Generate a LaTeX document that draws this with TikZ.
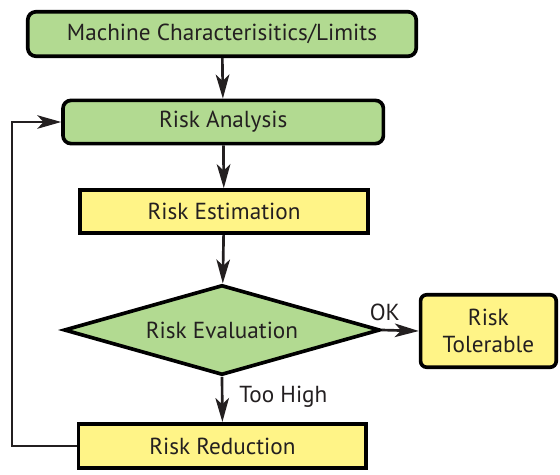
\documentclass[tikz,border=0pt]{standalone}
\usepackage{fontspec}
\setmainfont{PT Sans}
\usetikzlibrary{shapes.geometric,arrows.meta}
\definecolor{boxgreen}{RGB}{178,218,145}
\definecolor{boxyellow}{RGB}{255,244,135}
\definecolor{inkgray}{RGB}{35,31,32}
\begin{document}
\begin{tikzpicture}[
    box/.style={draw=black, line width=2.6pt, text=inkgray, font=\fontsize{16.5}{19.5}\selectfont, align=center},
    greenbox/.style={box, fill=boxgreen, rounded corners=0.2cm},
    yellowbox/.style={box, fill=boxyellow},
    flow/.style={line width=1.9pt, draw=inkgray, -{Stealth[length=0.6cm,width=0.34cm,inset=0.16cm]}},
    loopback/.style={flow, line width=1.3pt},
    tag/.style={text=inkgray, font=\fontsize{16.5}{19.5}\selectfont}]
    \useasboundingbox (0,0) rectangle (14,11.85);
    \node[greenbox, minimum width=9.71cm, minimum height=1.11cm] (limits) at (5.55,11) {Machine Characterisitics/Limits};
    \node[greenbox, minimum width=8.01cm, minimum height=1.08cm] (analysis) at (5.58,8.8) {Risk Analysis};
    \node[yellowbox, minimum width=7.21cm, minimum height=1.08cm] (estimation) at (5.6,6.56) {Risk Estimation};
    \node[box, diamond, aspect=3.5, fill=boxgreen, inner sep=0pt, minimum width=7.9cm, minimum height=2.25cm] (evaluation) at (5.55,3.6) {Risk Evaluation};
    \node[greenbox, fill=boxyellow, rounded corners=0.15cm, minimum width=3.39cm, minimum height=1.81cm] (tolerable) at (12.21,3.575) {Risk\\Tolerable};
    \node[yellowbox, minimum width=7.19cm, minimum height=1.11cm] (reduction) at (5.56,0.7) {Risk Reduction};
    \coordinate (turn) at (0.3,0.7);
    % main flow
    \draw[flow] (limits) -- (analysis);
    \draw[flow] (analysis) -- (estimation);
    \draw[flow] (estimation) -- (evaluation);
    \draw[flow] (evaluation.east) -- (tolerable.west) node[tag, pos=0.08, above, yshift=2pt] {OK};
    \draw[flow] (evaluation.south) -- (reduction.north) node[tag, pos=0.5, right, xshift=8pt, yshift=2pt] {Too High};
    % back to analysis
    \draw[loopback] (reduction.west) -- (turn) |- (analysis.west);
\end{tikzpicture}
\end{document}
